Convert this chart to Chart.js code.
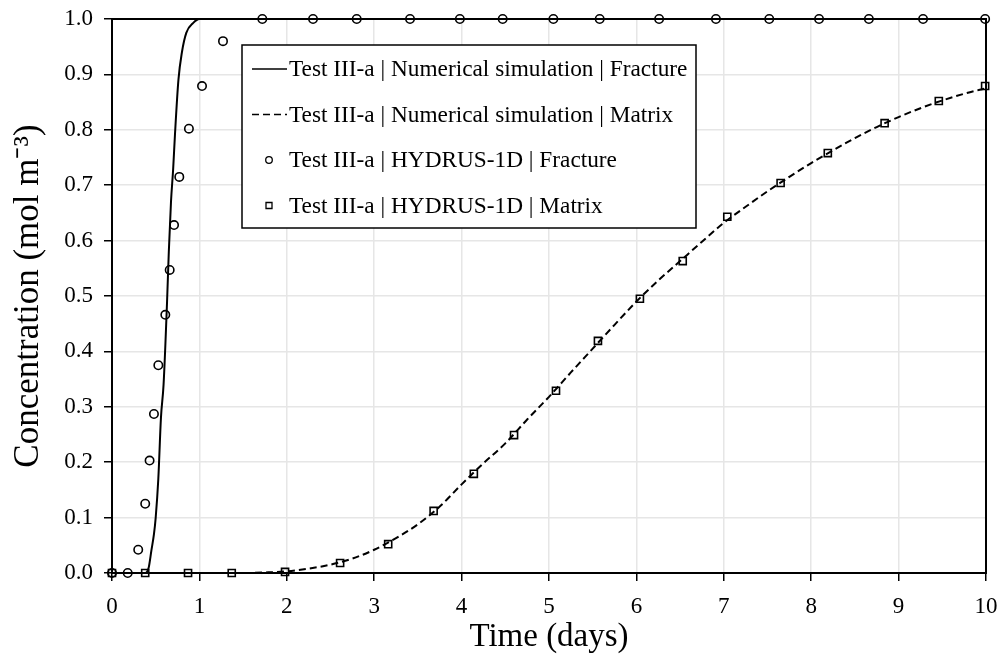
<!DOCTYPE html>
<html>
<head>
<meta charset="utf-8">
<script src="https://cdn.jsdelivr.net/npm/chart.js@4.4.0/dist/chart.umd.min.js"></script>
<style>
  html, body { margin: 0; padding: 0; background: #fff; }
</style>
</head>
<body>
<canvas id="myChart" width="1002" height="662"></canvas>
<script>
// Numerical simulation, fracture (solid line)
const simFracTime = [0, 0.38, 0.42, 0.45, 0.48, 0.50, 0.53, 0.56, 0.59, 0.63, 0.65, 0.675, 0.70, 0.72, 0.76, 0.80, 0.85, 0.93, 1.0, 10];
const simFracConc = [0, 0, 0.01, 0.04, 0.07, 0.10, 0.17, 0.28, 0.34, 0.49, 0.58, 0.67, 0.73, 0.79, 0.89, 0.94, 0.975, 0.993, 1.0, 1.0];

// Numerical simulation, matrix (dashed line)
const simMatTime = [0, 1.5, 1.75, 2.0, 2.25, 2.5, 2.75, 3.0, 3.25, 3.5, 3.75, 4.0, 4.25, 4.5, 4.75, 5.0, 5.25, 5.5, 5.75, 6.0, 6.25, 6.5, 6.75, 7.0, 7.25, 7.5, 7.75, 8.0, 8.25, 8.5, 8.75, 9.0, 9.25, 9.5, 9.75, 10];
const simMatConc = [0, 0, 0.001, 0.003, 0.008, 0.015, 0.026, 0.042, 0.063, 0.088, 0.12, 0.16, 0.198, 0.234, 0.277, 0.318, 0.362, 0.405, 0.448, 0.49, 0.528, 0.563, 0.598, 0.632, 0.661, 0.689, 0.715, 0.740, 0.763, 0.785, 0.805, 0.823, 0.839, 0.853, 0.865, 0.875];

// HYDRUS-1D, fracture (circles)
const hydFracTime = [0, 0.18, 0.30, 0.38, 0.43, 0.48, 0.53, 0.61, 0.66, 0.71, 0.77, 0.88, 1.03, 1.27, 1.72, 2.30, 2.80, 3.41, 3.98, 4.47, 5.05, 5.58, 6.26, 6.91, 7.52, 8.09, 8.66, 9.28, 9.99];
const hydFracConc = [0, 0, 0.042, 0.125, 0.203, 0.287, 0.375, 0.466, 0.547, 0.628, 0.715, 0.802, 0.879, 0.960, 1, 1, 1, 1, 1, 1, 1, 1, 1, 1, 1, 1, 1, 1, 1];

// HYDRUS-1D, matrix (squares)
const hydMatTime = [0, 0.38, 0.87, 1.37, 1.98, 2.61, 3.16, 3.68, 4.14, 4.60, 5.08, 5.56, 6.04, 6.53, 7.04, 7.65, 8.19, 8.84, 9.46, 9.99];
const hydMatConc = [0, 0, 0, 0, 0.002, 0.018, 0.052, 0.112, 0.179, 0.249, 0.329, 0.419, 0.495, 0.563, 0.643, 0.704, 0.758, 0.812, 0.852, 0.879];

const seriesLabels = [
  'Test III-a | Numerical simulation | Fracture',
  'Test III-a | Numerical simulation | Matrix',
  'Test III-a | HYDRUS-1D | Fracture',
  'Test III-a | HYDRUS-1D | Matrix'
];

const FONT = "'Liberation Serif', 'Times New Roman', serif";
const toXY = (xs, ys) => xs.map((x, i) => ({ x: x, y: ys[i] }));

// box around the plot area
const frame = {
  id: 'frame',
  beforeDatasetsDraw(chart) {
    const { ctx, chartArea: a } = chart;
    ctx.save();
    ctx.strokeStyle = '#000';
    ctx.lineWidth = 2;
    ctx.strokeRect(a.left, a.top, a.right - a.left, a.bottom - a.top);
    ctx.restore();
  }
};

// legend box inside the plot, top-left
const boxLegend = {
  id: 'boxLegend',
  afterDraw(chart) {
    const { ctx, chartArea: a } = chart;
    const left = a.left + 130, top = a.top + 26, w = 454, h = 183;
    ctx.save();
    ctx.fillStyle = '#fff';
    ctx.fillRect(left, top, w, h);
    ctx.strokeStyle = '#000';
    ctx.lineWidth = 1.5;
    ctx.strokeRect(left, top, w, h);
    ctx.font = '23.3px ' + FONT;
    ctx.textBaseline = 'middle';
    ctx.fillStyle = '#000';
    chart.data.datasets.forEach((ds, i) => {
      const y = top + 24 + i * 45.5;
      const sx = left + 10;
      ctx.strokeStyle = '#000';
      if (ds.showLine) {
        ctx.lineWidth = 1.5;
        ctx.setLineDash(ds.borderDash || []);
        ctx.beginPath();
        ctx.moveTo(sx, y);
        ctx.lineTo(sx + 35, y);
        ctx.stroke();
        ctx.setLineDash([]);
      } else {
        ctx.lineWidth = 1.3;
        ctx.beginPath();
        if (ds.pointStyle === 'rect') {
          ctx.rect(sx + 14, y - 3, 6, 6);
        } else {
          ctx.arc(sx + 17, y, 3.3, 0, Math.PI * 2);
        }
        ctx.stroke();
      }
      ctx.fillText(ds.label, sx + 37, y + 1);
    });
    ctx.restore();
  }
};

const ctx = document.getElementById('myChart').getContext('2d');
new Chart(ctx, {
  type: 'scatter',
  data: {
    datasets: [
      {
        label: seriesLabels[0],
        data: toXY(simFracTime, simFracConc),
        showLine: true,
        borderColor: '#000',
        borderWidth: 2,
        pointRadius: 0,
        cubicInterpolationMode: 'monotone',
        clip: false
      },
      {
        label: seriesLabels[1],
        data: toXY(simMatTime, simMatConc),
        showLine: true,
        borderColor: '#000',
        borderWidth: 2,
        borderDash: [7, 4],
        pointRadius: 0,
        cubicInterpolationMode: 'monotone',
        clip: false
      },
      {
        label: seriesLabels[2],
        data: toXY(hydFracTime, hydFracConc),
        showLine: false,
        pointStyle: 'circle',
        pointRadius: 4.2,
        pointBorderWidth: 1.6,
        pointBorderColor: '#000',
        pointBackgroundColor: 'rgba(0,0,0,0)',
        clip: false
      },
      {
        label: seriesLabels[3],
        data: toXY(hydMatTime, hydMatConc),
        showLine: false,
        pointStyle: 'rect',
        pointRadius: 5,
        pointBorderWidth: 1.6,
        pointBorderColor: '#000',
        pointBackgroundColor: 'rgba(0,0,0,0)',
        clip: false
      }
    ]
  },
  options: {
    responsive: false,
    devicePixelRatio: 1,
    animation: false,
    layout: { padding: { left: 0, top: 19, right: 16, bottom: 0 } },
    plugins: {
      legend: { display: false },
      tooltip: { enabled: false }
    },
    scales: {
      x: {
        type: 'linear',
        min: 0,
        max: 10,
        afterFit: s => { s.height = 89; s.paddingLeft = 0; s.paddingRight = 0; },
        ticks: { stepSize: 1, color: '#000', font: { family: FONT, size: 23 }, padding: 12, maxRotation: 0 },
        grid: { color: '#e6e6e6', lineWidth: 1.5, tickColor: '#000', tickLength: 8, tickWidth: 1.5 },
        border: { color: '#000', width: 2 },
        title: { display: true, text: 'Time (days)', color: '#000', font: { family: FONT, size: 33 }, padding: { top: 0, bottom: 5 } }
      },
      y: {
        min: 0,
        max: 1,
        afterFit: s => { s.width = 112; s.paddingTop = 0; s.paddingBottom = 0; },
        ticks: { stepSize: 0.1, color: '#000', font: { family: FONT, size: 23 }, padding: 11, callback: v => v.toFixed(1) },
        grid: { color: '#e6e6e6', lineWidth: 1.5, tickColor: '#000', tickLength: 8, tickWidth: 1.5 },
        border: { color: '#000', width: 2 },
        title: { display: true, text: 'Concentration (mol m\u207B\u00B3)', color: '#000', font: { family: FONT, size: 35 }, padding: { top: 8, bottom: 0 } }
      }
    }
  },
  plugins: [frame, boxLegend]
});
</script>
</body>
</html>
